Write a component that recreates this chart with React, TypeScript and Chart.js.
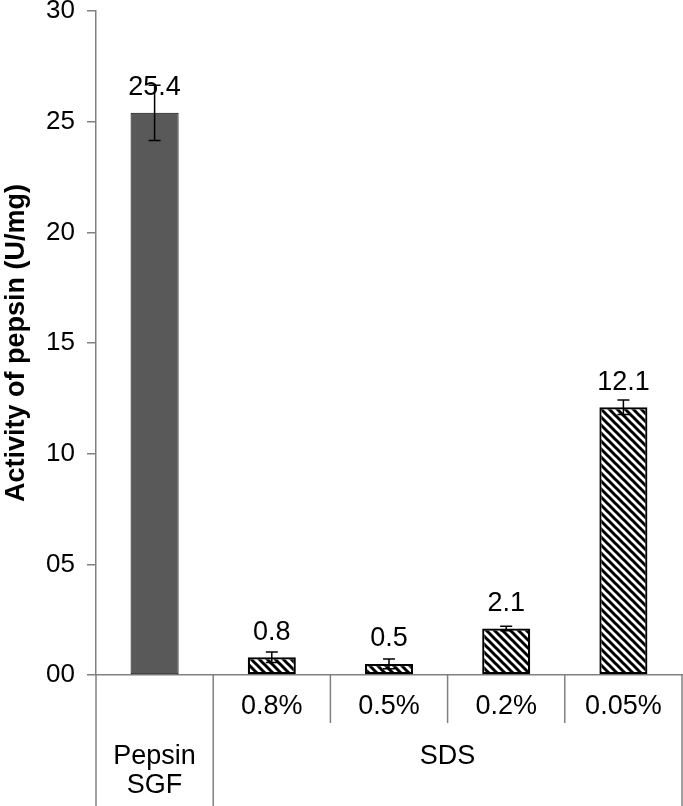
import React, { useEffect, useRef } from "react";
import { Chart, registerables } from "chart.js";

Chart.register(...registerables);

const categories = ["Pepsin SGF", "0.8%", "0.5%", "0.2%", "0.05%"];
const subLabels = ["", "0.8%", "0.5%", "0.2%", "0.05%"];
const values = [25.4, 0.8, 0.5, 2.1, 12.1];
const errors = [1.25, 0.24, 0.22, 0.1, 0.33];
const valueLabels = ["25.4", "0.8", "0.5", "2.1", "12.1"];
const groups = [
  { lines: ["Pepsin", "SGF"], from: 0, to: 0 },
  { lines: ["SDS"], from: 1, to: 4 },
];
const yTicks = [0, 5, 10, 15, 20, 25, 30];

const FONT = "'Liberation Sans', Arial, sans-serif";
const AXIS_COLOR = "#808080";

function makeHatch(): CanvasPattern | string {
  const c = document.createElement("canvas");
  c.width = 8;
  c.height = 8;
  const ctx = c.getContext("2d");
  if (!ctx) return "#fff";
  ctx.fillStyle = "#ffffff";
  ctx.fillRect(0, 0, 8, 8);
  ctx.strokeStyle = "#000000";
  ctx.lineWidth = 3;
  ctx.lineCap = "square";
  const segs = [
    [-2, -2, 10, 10],
    [-2, 6, 2, 10],
    [6, -2, 10, 2],
  ];
  for (const [x1, y1, x2, y2] of segs) {
    ctx.beginPath();
    ctx.moveTo(x1, y1);
    ctx.lineTo(x2, y2);
    ctx.stroke();
  }
  const p = ctx.createPattern(c, "repeat");
  return p || "#fff";
}

const overlayPlugin = {
  id: "overlay",
  afterDatasetsDraw(chart: any) {
    const ctx = chart.ctx as CanvasRenderingContext2D;
    const ys = chart.scales.y;
    const meta = chart.getDatasetMeta(0);
    ctx.save();
    ctx.fillStyle = "#000";
    ctx.font = `27px ${FONT}`;
    ctx.textAlign = "center";
    ctx.textBaseline = "middle";
    meta.data.forEach((bar: any, i: number) => {
      ctx.fillText(valueLabels[i], bar.x, bar.y - 25);
    });
    ctx.strokeStyle = "#000";
    ctx.lineWidth = 1.5;
    meta.data.forEach((bar: any, i: number) => {
      const top = ys.getPixelForValue(values[i] + errors[i]);
      const bot = ys.getPixelForValue(values[i] - errors[i]);
      const x = bar.x;
      ctx.beginPath();
      ctx.moveTo(x, top);
      ctx.lineTo(x, bot);
      ctx.moveTo(x - 6, top);
      ctx.lineTo(x + 6, top);
      ctx.moveTo(x - 6, bot);
      ctx.lineTo(x + 6, bot);
      ctx.stroke();
    });
    ctx.restore();
  },
  afterDraw(chart: any) {
    const ctx = chart.ctx as CanvasRenderingContext2D;
    const xs = chart.scales.x;
    const area = chart.chartArea;
    const bottom = chart.height;
    const n = categories.length;
    const cw = (area.right - area.left) / n;
    ctx.save();
    ctx.strokeStyle = AXIS_COLOR;
    ctx.lineWidth = 1.5;
    for (let i = 0; i <= n; i++) {
      const x = i < n ? xs.getPixelForValue(i) - cw / 2 : xs.getPixelForValue(n - 1) + cw / 2;
      const isGroupEdge = groups.some((g) => g.from === i || g.to + 1 === i);
      ctx.beginPath();
      ctx.moveTo(x, area.bottom);
      ctx.lineTo(x, isGroupEdge ? bottom : area.bottom + 48);
      ctx.stroke();
    }
    ctx.fillStyle = "#000";
    ctx.font = `27px ${FONT}`;
    ctx.textAlign = "center";
    ctx.textBaseline = "middle";
    subLabels.forEach((lab, i) => {
      if (lab) ctx.fillText(lab, xs.getPixelForValue(i), area.bottom + 32);
    });
    groups.forEach((g) => {
      const x = (xs.getPixelForValue(g.from) + xs.getPixelForValue(g.to)) / 2;
      g.lines.forEach((line, k) => {
        ctx.fillText(line, x, area.bottom + 82 + k * 29);
      });
    });
    ctx.restore();
  },
};

export default function App() {
  const ref = useRef<HTMLCanvasElement | null>(null);
  useEffect(() => {
    if (!ref.current) return;
    const hatch = makeHatch();
    const chart = new Chart(ref.current, {
      type: "bar",
      data: {
        labels: categories,
        datasets: [
          {
            data: values,
            backgroundColor: values.map((_, i) => (i === 0 ? "#595959" : hatch)) as any,
            borderColor: "#000",
            borderWidth: values.map((_, i) => (i === 0 ? 1 : 2.2)) as any,
            borderSkipped: false,
            barPercentage: 0.41,
            categoryPercentage: 1,
          },
        ],
      },
      options: {
        responsive: false,
        animation: false,
        layout: { padding: { top: 11, right: 1, left: 0, bottom: 0 } },
        plugins: {
          legend: { display: false },
          tooltip: { enabled: false },
        },
        scales: {
          x: {
            offset: true,
            grid: { display: false },
            ticks: { display: false },
            border: { display: true, color: AXIS_COLOR, width: 1.5 },
            afterFit: (s: any) => {
              s.height = 131;
              s.paddingLeft = 0;
              s.paddingRight = 0;
            },
          },
          y: {
            min: 0,
            max: 30,
            afterBuildTicks: (s: any) => {
              s.ticks = yTicks.map((v) => ({ value: v }));
            },
            ticks: {
              color: "#000",
              font: { family: FONT, size: 26 },
              padding: 12,
              callback: (v: any) => String(v).padStart(2, "0"),
            },
            grid: {
              drawOnChartArea: false,
              drawTicks: true,
              tickLength: 9,
              color: AXIS_COLOR,
              lineWidth: 1.5,
            },
            border: { display: true, color: AXIS_COLOR, width: 1.5 },
            title: {
              display: true,
              text: "Activity of pepsin (U/mg)",
              color: "#000",
              font: { family: FONT, size: 27, weight: "bold" },
              padding: { top: 0, bottom: 0 },
            },
            afterFit: (s: any) => {
              s.width = 96;
              s.paddingTop = 0;
              s.paddingBottom = 0;
            },
          },
        },
      },
      plugins: [overlayPlugin],
    });
    return () => chart.destroy();
  }, []);
  return (
    <div style={{ position: "absolute", left: 0, top: 0, width: 683, height: 806, background: "#fff" }}>
      <canvas ref={ref} width={683} height={806} />
    </div>
  );
}
